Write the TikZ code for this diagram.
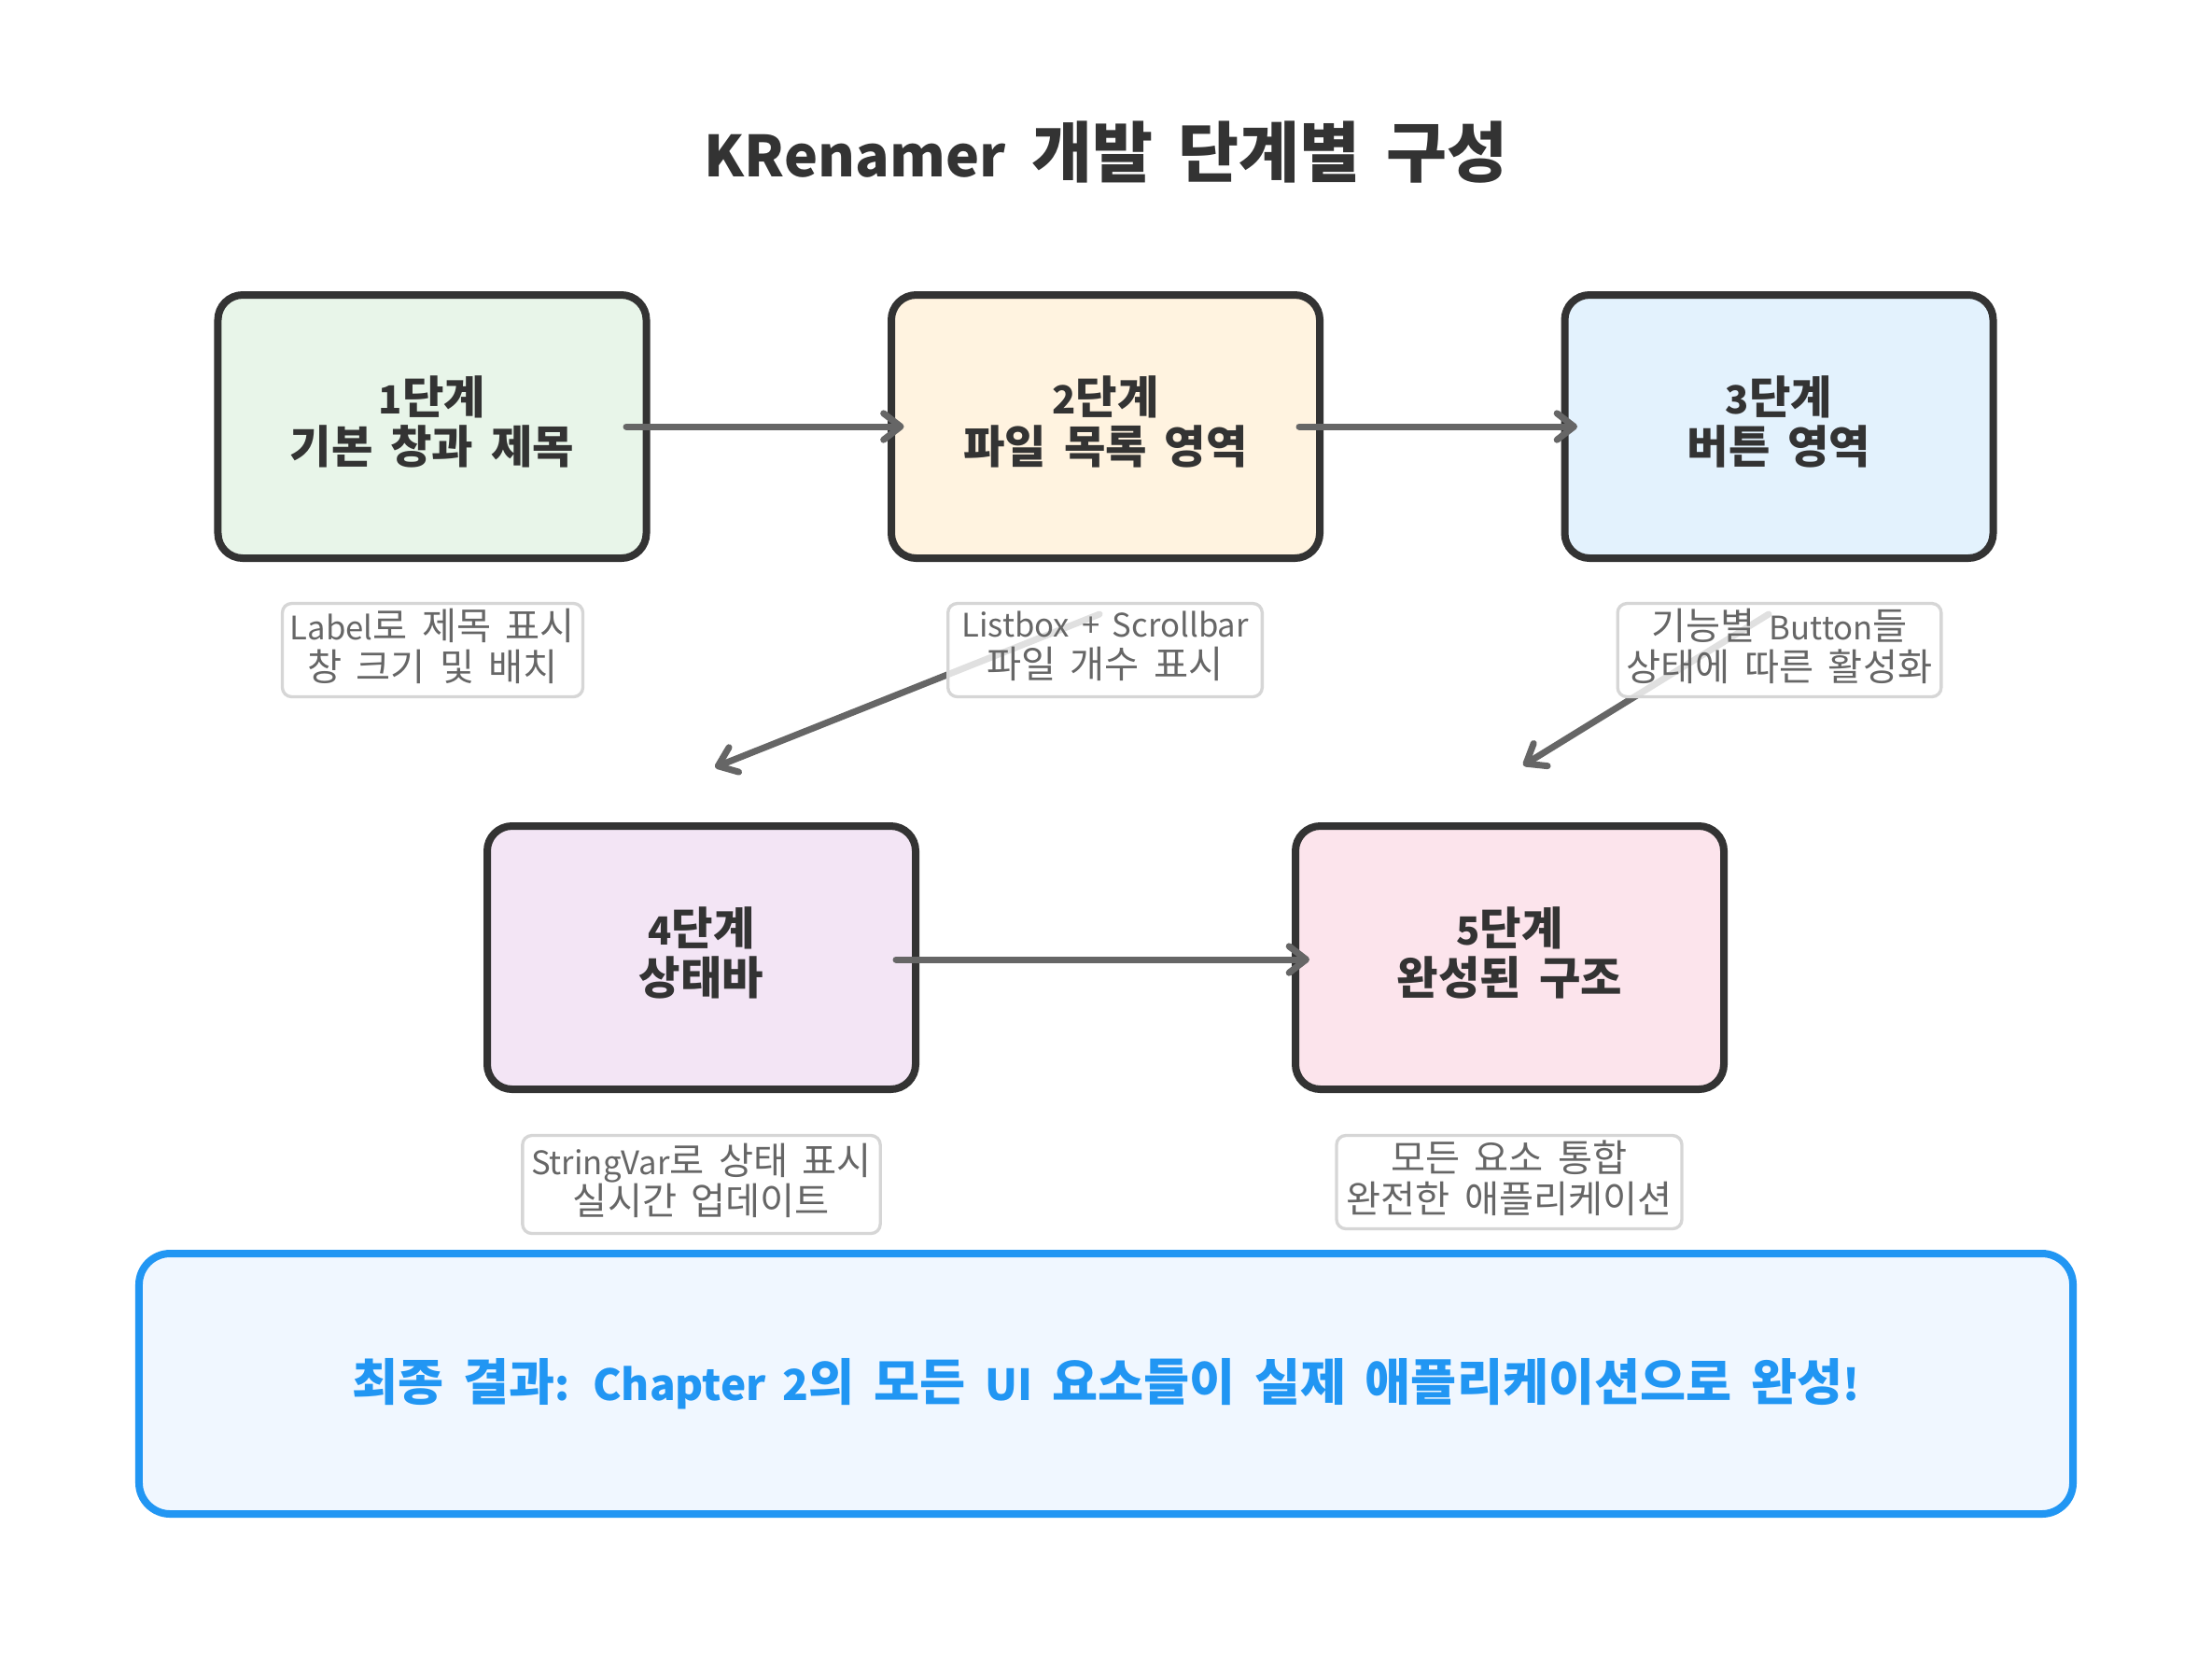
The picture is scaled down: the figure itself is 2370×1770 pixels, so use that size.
\documentclass[tikz,border=0pt]{standalone}
\usepackage{fontspec}
\setmainfont{Noto Sans CJK KR}[WordSpace=1.7]
\newfontfamily\lat{Noto Sans CJK KR}[Scale=0.86,WordSpace=1.7]
\usetikzlibrary{arrows.meta,calc}
\newcommand{\dropdepth}[1]{\rule[-#1]{0pt}{#1}}
\definecolor{dark}{HTML}{333333}
\definecolor{arrowgray}{HTML}{666666}
\definecolor{notegray}{HTML}{666666}
\definecolor{noteborder}{HTML}{D6D6D6}
\definecolor{fillA}{HTML}{E8F5E9}
\definecolor{fillB}{HTML}{FFF3E0}
\definecolor{fillC}{HTML}{E3F2FD}
\definecolor{fillD}{HTML}{F3E5F5}
\definecolor{fillE}{HTML}{FCE4EC}
\definecolor{resblue}{HTML}{2196F3}
\definecolor{resfill}{HTML}{F0F7FF}
\tikzset{
  stagebox/.style={draw=dark, line width=2.4bp, rounded corners=8bp,
    minimum width=137.7bp, minimum height=84.6bp, inner sep=0pt,
    align=center, text=dark,
    font=\bfseries\fontsize{14.5bp}{15.9bp}\selectfont},
  notebox/.style={draw=noteborder, line width=1bp, rounded corners=3bp,
    fill=white, fill opacity=0.8, text opacity=1, text=notegray,
    inner xsep=1bp, inner ysep=0pt, minimum height=30bp, align=center,
    font=\fontsize{12.1bp}{13bp}\selectfont},
  flowarrow/.style={draw=arrowgray, line width=2.1bp, line cap=round,
    -{Straight Barb[length=5.5bp,width=8.5bp,line cap=round,line join=round]}},
}
\begin{document}
\begin{tikzpicture}[x=0.3bp,y=-0.3bp]
\useasboundingbox (0,0) rectangle (2370,1770);
\fill[white] (0,0) rectangle (2370,1770);

\node[font=\bfseries\fontsize{21.2bp}{25bp}\selectfont, text=dark] (title) at (1185,163) {{\lat KRenamer} 개발 단계별 구성};

\node[stagebox, fill=fillA] (b1) at (463,457) {{\lat 1}단계\\기본 창과 제목\dropdepth{4.6bp}};
\node[stagebox, fill=fillB] (b2) at (1184.5,457) {{\lat 2}단계\\파일 목록 영역\dropdepth{4.6bp}};
\node[stagebox, fill=fillC] (b3) at (1906,457) {{\lat 3}단계\\버튼 영역\dropdepth{4.6bp}};
\node[stagebox, fill=fillD] (b4) at (751.5,1026) {{\lat 4}단계\\상태바\dropdepth{4.6bp}};
\node[stagebox, fill=fillE] (b5) at (1617.5,1026) {{\lat 5}단계\\완성된 구조\dropdepth{4.6bp}};

\coordinate (a24end) at ($(b4.center)+(14.5,-204)$);
\coordinate (a35end) at ($(b5.center)+(14.5,-206)$);

\draw[flowarrow] ($(b1.center)+(208,0)$) -- ($(b2.center)+(-216,0)$);
\draw[flowarrow] ($(b2.center)+(207.5,0)$) -- ($(b3.center)+(-216,0)$);
\draw[flowarrow] ($(b4.center)+(208.5,2)$) -- ($(b5.center)+(-214.5,2)$);
\draw[flowarrow] ($(b2.center)+(-6.5,201)$) -- (a24end);
\draw[flowarrow] ($(b3.center)+(-11,201)$) -- (a35end);

\node[notebox, minimum width=96.6bp] (n1) at (463.5,696.5) {{\lat Label}로 제목 표시\\창 크기 및 배치\dropdepth{3.5bp}};
\node[notebox, minimum width=101bp] (n2) at (1184,696.5) {{\lat Listbox + Scrollbar}\\파일 개수 표시\dropdepth{3.5bp}};
\node[notebox, minimum width=104bp] (n3) at (1906.5,696.5) {기능별 {\lat Button}들\\상태에 따른 활성화\dropdepth{3.5bp}};
\node[notebox, minimum width=115bp, minimum height=31.5bp] (n4) at (751.5,1269) {{\lat StringVar}로 상태 표시\\실시간 업데이트\dropdepth{3.5bp}};
\node[notebox, minimum width=111bp] (n5) at (1617,1266.5) {모든 요소 통합\\완전한 애플리케이션\dropdepth{3.5bp}};

\node[draw=resblue, fill=resfill, line width=2.4bp, rounded corners=10bp,
  minimum width=621.6bp, minimum height=83.7bp, inner sep=0pt,
  text=resblue, font=\bfseries\fontsize{16bp}{19bp}\selectfont] (result) at (1185,1482.5)
  {최종 결과{\lat :} {\lat Chapter 2}의 모든 {\lat UI} 요소들이 실제 애플리케이션으로 완성{\lat !}};
\end{tikzpicture}
\end{document}
